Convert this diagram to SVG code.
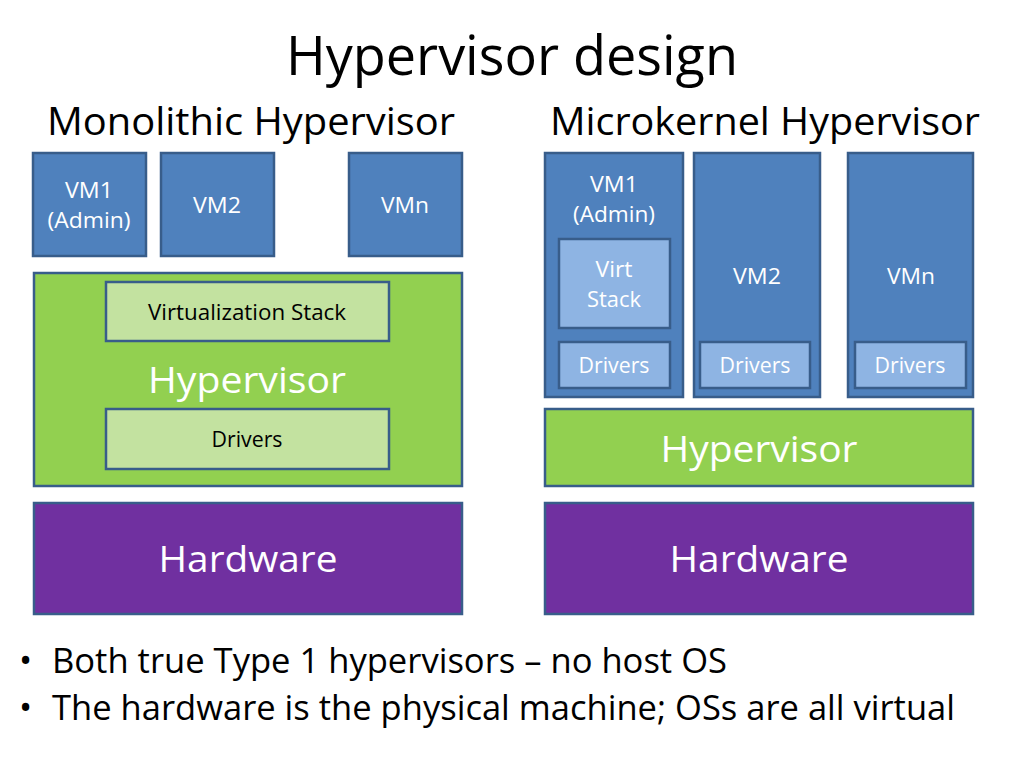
<svg xmlns="http://www.w3.org/2000/svg" width="1024" height="768" viewBox="0 0 1024 768">
<style>
text{font-family:"Open Sans","Noto Sans","Liberation Sans",sans-serif;}
.vm{fill:#4F81BD;stroke:#385D8A;stroke-width:2.5;}
.hv{fill:#92D050;stroke:#385D8A;stroke-width:2.5;}
.lg{fill:#C3E2A0;stroke:#385D8A;stroke-width:2.5;}
.lb{fill:#8EB4E3;stroke:#385D8A;stroke-width:2.5;}
.hw{fill:#7030A0;stroke:#385D8A;stroke-width:2.5;}
.w{fill:#FFFFFF;text-anchor:middle;}
.k{fill:#000000;text-anchor:middle;}
.s{font-size:21px;}
.m{font-size:36px;}
</style>
<rect width="1024" height="768" fill="#FFFFFF"/>
<text x="512" y="75" class="k" font-size="55" textLength="452" lengthAdjust="spacingAndGlyphs">Hypervisor design</text>
<text x="251" y="135" class="k" font-size="38" textLength="408" lengthAdjust="spacingAndGlyphs">Monolithic Hypervisor</text>
<text x="765" y="135" class="k" font-size="38" textLength="430" lengthAdjust="spacingAndGlyphs">Microkernel Hypervisor</text>

<g id="mono-vm1"><rect class="vm" x="33" y="153" width="113" height="103"/><text x="89" y="198" class="w s" textLength="48" lengthAdjust="spacingAndGlyphs">VM1</text><text x="89" y="228" class="w s" textLength="83" lengthAdjust="spacingAndGlyphs">(Admin)</text></g>
<g id="mono-vm2"><rect class="vm" x="161" y="153" width="113" height="103"/><text x="217" y="213" class="w s" textLength="48" lengthAdjust="spacingAndGlyphs">VM2</text></g>
<g id="mono-vmn"><rect class="vm" x="349" y="153" width="113" height="103"/><text x="405" y="213" class="w s" textLength="48" lengthAdjust="spacingAndGlyphs">VMn</text></g>
<g id="mono-hypervisor"><rect class="hv" x="34" y="273" width="428" height="213"/><text x="247" y="393" class="w m" textLength="198" lengthAdjust="spacingAndGlyphs">Hypervisor</text></g>
<g id="mono-virtstack"><rect class="lg" x="106" y="282" width="283" height="59"/><text x="247" y="320" class="k s" textLength="198" lengthAdjust="spacingAndGlyphs">Virtualization Stack</text></g>
<g id="mono-drivers"><rect class="lg" x="106" y="409" width="283" height="60"/><text x="247" y="447" class="k s" textLength="71" lengthAdjust="spacingAndGlyphs">Drivers</text></g>
<g id="mono-hardware"><rect class="hw" x="34" y="503" width="428" height="111"/><text x="248" y="572" class="w m" textLength="179" lengthAdjust="spacingAndGlyphs">Hardware</text></g>

<g id="micro-vm1"><rect class="vm" x="545" y="153" width="138" height="244"/><text x="614" y="192" class="w s" textLength="48" lengthAdjust="spacingAndGlyphs">VM1</text><text x="614" y="222" class="w s" textLength="82" lengthAdjust="spacingAndGlyphs">(Admin)</text></g>
<g id="micro-virtstack"><rect class="lb" x="559" y="239" width="111" height="89"/><text x="614" y="277" class="w s" textLength="37" lengthAdjust="spacingAndGlyphs">Virt</text><text x="614" y="307" class="w s" textLength="54" lengthAdjust="spacingAndGlyphs">Stack</text></g>
<g id="micro-drivers1"><rect class="lb" x="559" y="342" width="111" height="46"/><text x="614" y="373" class="w s" textLength="71" lengthAdjust="spacingAndGlyphs">Drivers</text></g>
<g id="micro-vm2"><rect class="vm" x="694" y="153" width="126" height="244"/><text x="757" y="284" class="w s" textLength="48" lengthAdjust="spacingAndGlyphs">VM2</text></g>
<g id="micro-drivers2"><rect class="lb" x="700" y="342" width="110" height="46"/><text x="755" y="373" class="w s" textLength="71" lengthAdjust="spacingAndGlyphs">Drivers</text></g>
<g id="micro-vmn"><rect class="vm" x="848" y="153" width="125" height="244"/><text x="911" y="284" class="w s" textLength="48" lengthAdjust="spacingAndGlyphs">VMn</text></g>
<g id="micro-drivers3"><rect class="lb" x="855" y="342" width="111" height="46"/><text x="910" y="373" class="w s" textLength="71" lengthAdjust="spacingAndGlyphs">Drivers</text></g>
<g id="micro-hypervisor"><rect class="hv" x="545" y="409" width="428" height="77"/><text x="759" y="462" class="w m" textLength="197" lengthAdjust="spacingAndGlyphs">Hypervisor</text></g>
<g id="micro-hardware"><rect class="hw" x="545" y="503" width="428" height="111"/><text x="759" y="572" class="w m" textLength="179" lengthAdjust="spacingAndGlyphs">Hardware</text></g>

<g id="connectors"></g>

<g id="bullets" font-size="35" fill="#000000">
<text x="19" y="673">•</text>
<text x="52" y="673" textLength="675" lengthAdjust="spacingAndGlyphs">Both true Type 1 hypervisors – no host OS</text>
<text x="19" y="720">•</text>
<text x="52" y="720" textLength="903" lengthAdjust="spacingAndGlyphs">The hardware is the physical machine; OSs are all virtual</text>
</g>
</svg>
